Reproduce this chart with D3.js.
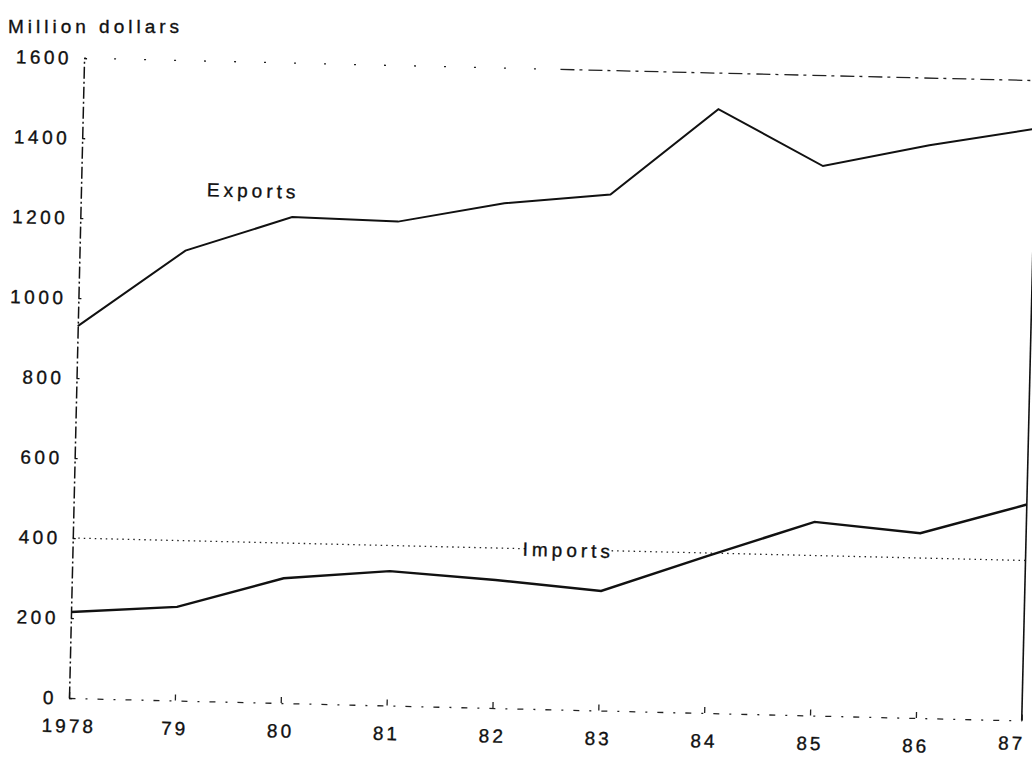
<!DOCTYPE html>
<html lang="en">
	<head>
		<meta charset="utf-8">
		<title> Exports and Imports </title>
		<script type="text/javascript" src="https://d3js.org/d3.v7.min.js"></script>
		<style type="text/css">
			body { margin: 0; background: #fff; }
			svg text { font-family: "Liberation Sans", Arial, sans-serif; fill: #111; stroke: #111; stroke-width: 0.35px; }
		</style>
	</head>
	<body>
		<div id="chart"></div>

		<script type="text/javascript">

			//Data
			var years = ["1978", "79", "80", "81", "82", "83", "84", "85", "86", "87"];
			var exportsVals = [930, 1125, 1215, 1210, 1262, 1290, 1510, 1374, 1432, 1480];
			var importsVals = [215, 234, 312, 336, 320, 299, 393, 484, 462, 540];
			var yTicks = [0, 200, 400, 600, 800, 1000, 1200, 1400, 1600];
			var dottedGrid = [400];

			//Width and height
			var W = 1032;
			var H = 757;
			var w = 953;
			var h = 640;
			// the scanned page is a little crooked, so the plot is turned slightly
			var tilt = 1.35;

			var svg = d3.select("#chart")
				.append("svg")
				.attr("width", W)
				.attr("height", H);

			var g = svg.append("g")
				.attr("transform", "translate(69,698) rotate(" + tilt + ") translate(0," + (-h) + ")");

			//1. Scales
			var xScale = d3.scalePoint()
				.domain(years)
				.range([0, w]);
			var yScale = d3.scaleLinear()
				.domain([0, 1600])
				.range([h, 0]);

			//2. Top and right frame
			var split = (xScale("82") + xScale("83")) / 2;
			g.append("line")
				.attr("x1", 0).attr("x2", split)
				.attr("y1", yScale(1600)).attr("y2", yScale(1600))
				.attr("stroke", "#222").attr("stroke-width", 1.3)
				.attr("stroke-dasharray", "2,28");
			g.append("line")
				.attr("x1", split).attr("x2", w)
				.attr("y1", yScale(1600)).attr("y2", yScale(1600))
				.attr("stroke", "#222").attr("stroke-width", 1.3)
				.attr("stroke-dasharray", "14,5,3,6");
			g.append("line")
				.attr("x1", w).attr("x2", w)
				.attr("y1", yScale(1600)).attr("y2", yScale(0))
				.attr("stroke", "#111").attr("stroke-width", 1.6);

			//3. Dotted grid line at 400
			g.selectAll(".grid")
				.data(dottedGrid)
				.enter()
				.append("line")
				.attr("class", "grid")
				.attr("x1", 0).attr("x2", w)
				.attr("y1", function(d) { return yScale(d); })
				.attr("y2", function(d) { return yScale(d); })
				.attr("stroke", "#222")
				.attr("stroke-width", 1.3)
				.attr("stroke-dasharray", "1.5,4");

			//4. Axes
			var xAxis = d3.axisBottom(xScale)
				.tickSizeInner(-6)
				.tickSizeOuter(0)
				.tickPadding(21);
			var gx = g.append("g")
				.attr("transform", "translate(0," + h + ")")
				.call(xAxis);
			gx.select(".domain")
				.attr("stroke", "#222")
				.attr("stroke-width", 1.3)
				.attr("stroke-dasharray", "6,10,2,10");
			gx.selectAll(".tick line").attr("stroke", "#222").attr("stroke-width", 1.3);
			gx.selectAll("text")
				.attr("font-size", "19px")
				.attr("letter-spacing", "3px")
				.attr("fill", "#111");
			// last label is pulled in a little so it stays on the page
			gx.selectAll("text")
				.filter(function(d, i) { return i === years.length - 1; })
				.attr("dx", -10)
				.attr("y", 16);

			var yAxis = d3.axisLeft(yScale)
				.tickValues(yTicks)
				.tickFormat(d3.format("d"))
				.tickSizeInner(-3)
				.tickSizeOuter(0)
				.tickPadding(12);
			var gy = g.append("g")
				.call(yAxis);
			gy.select(".domain")
				.attr("stroke", "#111")
				.attr("stroke-width", 1.5)
				.attr("stroke-dasharray", "12,3,2,3");
			gy.selectAll(".tick line").attr("stroke", "#111").attr("stroke-width", 1.3);
			gy.selectAll("text")
				.attr("font-size", "19px")
				.attr("letter-spacing", "3.5px")
				.attr("fill", "#111");

			//5. Lines
			var line = d3.line()
				.x(function(d, i) { return xScale(years[i]); })
				.y(function(d) { return yScale(d); });

			g.append("path")
				.datum(exportsVals)
				.attr("d", line)
				.attr("fill", "none")
				.attr("stroke", "#111")
				.attr("stroke-width", 2);

			g.append("path")
				.datum(importsVals)
				.attr("d", line)
				.attr("fill", "none")
				.attr("stroke", "#111")
				.attr("stroke-width", 2.4);

			//6. Labels
			g.append("text")
				.attr("x", 126)
				.attr("y", yScale(1262))
				.attr("font-size", "19px")
				.attr("letter-spacing", "4px")
				.text("Exports");

			var imp = g.append("text")
				.attr("x", 450)
				.attr("y", yScale(382))
				.attr("font-size", "19px")
				.attr("letter-spacing", "4px")
				.text("Imports");
			var bb = imp.node().getBBox();
			g.insert("rect", function() { return imp.node(); })
				.attr("x", bb.x + 4)
				.attr("y", bb.y + 2)
				.attr("width", bb.width - 8)
				.attr("height", bb.height - 4)
				.attr("fill", "#fff");

			svg.append("text")
				.attr("x", 8)
				.attr("y", 33)
				.attr("font-size", "19px")
				.attr("letter-spacing", "4px")
				.text("Million dollars");

		</script>
	</body>
</html>
